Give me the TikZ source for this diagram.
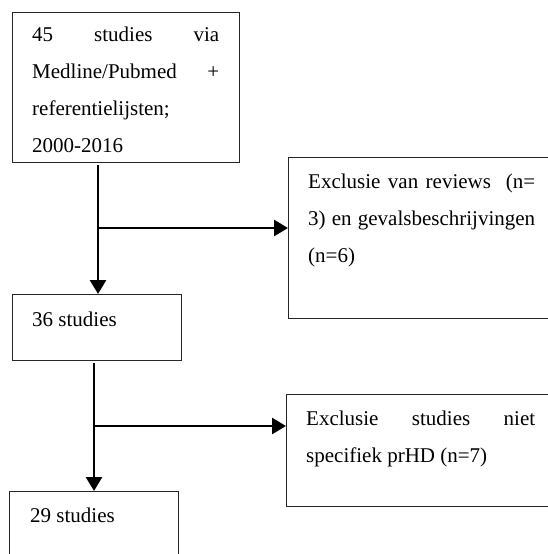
\documentclass[tikz,border=0pt]{standalone}
\usepackage{fontspec}
\setmainfont{Liberation Serif}
\usetikzlibrary{arrows.meta}
\begin{document}
\begin{tikzpicture}[x=1pt,y=-1pt,
  box/.style={draw=black!85, line width=1.2pt, inner sep=0pt, anchor=north west},
  txt/.style={anchor=base west, inner sep=0pt, font=\fontsize{21}{25}\selectfont},
  flow/.style={line width=2.6pt, -{Triangle[width=16pt,length=14pt]}},
  branch/.style={line width=2.6pt}
]
\useasboundingbox (0,0) rectangle (547,554);

% boxes
\node[box, minimum width=227pt, minimum height=150.5pt] (b1) at (12,11.5) {};
\node[box, minimum width=270pt, minimum height=161pt] (b2) at (288,157) {};
\node[box, minimum width=169pt, minimum height=66pt] (b3) at (12,294) {};
\node[box, minimum width=272pt, minimum height=112pt] (b5) at (286,394) {};
\node[box, minimum width=169pt, minimum height=90pt] (b4) at (9,491) {};

% texts
\node[txt] (t1a) at (32,41.5) {\makebox[187pt][s]{45 studies via}};
\node[txt] (t1b) at (32,78.5) {\makebox[187pt][s]{Medline/Pubmed +}};
\node[txt] (t1c) at (32,115.5) {referentielijsten;};
\node[txt] (t1d) at (32,152) {2000-2016};

\node[txt] (t2a) at (308,188) {\makebox[227pt][s]{Exclusie van reviews\space\space(n=}};
\node[txt] (t2b) at (308,225) {\makebox[227pt][s]{3) en gevalsbeschrijvingen}};
\node[txt] (t2c) at (308,262) {(n=6)};

\node[txt] (t3) at (32,326) {36 studies};

\node[txt] (t5a) at (306,425) {\makebox[229pt][s]{Exclusie studies niet}};
\node[txt] (t5b) at (306,462) {specifiek prHD (n=7)};

\node[txt] (t4) at (30,522) {29 studies};

% connectors
\coordinate (s1) at (98,165);
\coordinate (j1) at (98,228);
\draw[flow] (s1) -- (s1 |- b3.north);
\draw[flow] (j1) -- (j1 -| b2.west);

\coordinate (s2) at (94,363);
\coordinate (j2) at (94,426);
\draw[flow] (s2) -- (s2 |- b4.north);
\draw[flow] (j2) -- (j2 -| b5.west);
\end{tikzpicture}
\end{document}
